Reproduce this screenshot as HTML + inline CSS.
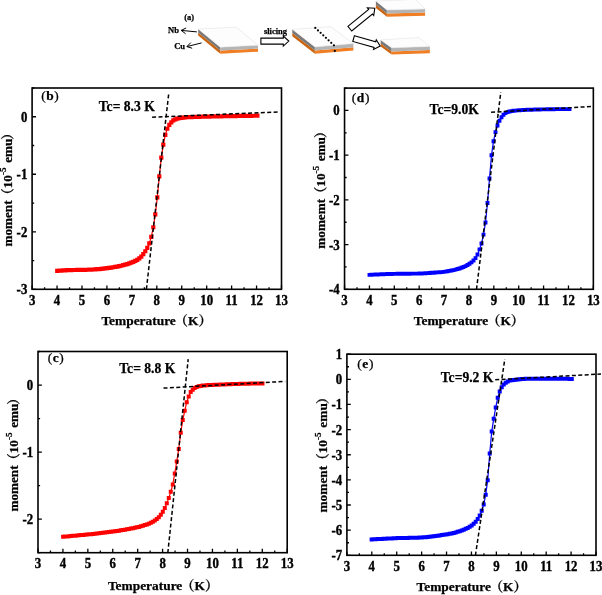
<!DOCTYPE html>
<html><head><meta charset="utf-8"><title>figure</title><style>html,body{margin:0;padding:0;background:#fff}svg{display:block}</style></head><body>
<svg width="602" height="595" viewBox="0 0 602 595">
<rect width="602" height="595" fill="#fff"/>
<polygon points="198.2,32.4 220.3,50.6 220.3,53.7 198.2,35.5" fill="#cc6410"/><polygon points="198.2,29 220.3,47.2 220.3,50.6 198.2,32.4" fill="#787878"/><polygon points="220.3,50.6 258,48.6 258,51.7 220.3,53.7" fill="#f07e24"/><polygon points="220.3,47.2 258,45.2 258,48.6 220.3,50.6" fill="#b4b4b4"/><polygon points="198.2,29 236.5,27.3 258,45.2 220.3,47.2" fill="#fdfdfd" stroke="#dcdcdc" stroke-width="0.5"/>
<polygon points="292.3,32.95 314.9,50.5 314.9,53.7 292.3,36.15" fill="#cc6410"/><polygon points="292.3,29.35 314.9,46.9 314.9,50.5 292.3,32.95" fill="#787878"/><polygon points="314.9,50.5 353.4,47.2 353.4,50.4 314.9,53.7" fill="#f07e24"/><polygon points="314.9,46.9 353.4,43.6 353.4,47.2 314.9,50.5" fill="#b4b4b4"/><polygon points="292.3,29.35 330.8,26.7 353.4,43.6 314.9,46.9" fill="#fdfdfd" stroke="#dcdcdc" stroke-width="0.5"/>
<polygon points="375.9,4.7 386.9,13.6 386.9,16.8 375.9,7.9" fill="#cc6410"/><polygon points="375.9,1.1 386.9,10 386.9,13.6 375.9,4.7" fill="#787878"/><polygon points="386.9,13.6 425.1,12.6 425.1,15.8 386.9,16.8" fill="#f07e24"/><polygon points="386.9,10 425.1,9 425.1,12.6 386.9,13.6" fill="#b4b4b4"/><polygon points="375.9,1.1 415.5,-0.7 425.1,9 386.9,10" fill="#fdfdfd" stroke="#dcdcdc" stroke-width="0.5"/>
<polygon points="380.7,43.5 391.6,51.4 391.6,54.5 380.7,46.6" fill="#cc6410"/><polygon points="380.7,39.9 391.6,47.8 391.6,51.4 380.7,43.5" fill="#787878"/><polygon points="391.6,51.4 429.85,50.1 429.85,53.2 391.6,54.5" fill="#f07e24"/><polygon points="391.6,47.8 429.85,46.5 429.85,50.1 391.6,51.4" fill="#b4b4b4"/><polygon points="380.7,39.9 418.8,37.6 429.85,46.5 391.6,47.8" fill="#fdfdfd" stroke="#dcdcdc" stroke-width="0.5"/>
<circle cx="315.3" cy="27.9" r="1.1" fill="#000"/>
<circle cx="317.96" cy="30.39" r="1.1" fill="#000"/>
<circle cx="320.61" cy="32.87" r="1.1" fill="#000"/>
<circle cx="323.27" cy="35.36" r="1.1" fill="#000"/>
<circle cx="325.93" cy="37.84" r="1.1" fill="#000"/>
<circle cx="328.59" cy="40.33" r="1.1" fill="#000"/>
<circle cx="331.24" cy="42.81" r="1.1" fill="#000"/>
<circle cx="333.9" cy="45.3" r="1.1" fill="#000"/>
<circle cx="334.8" cy="50.9" r="1.1" fill="#000"/>
<polygon transform="translate(260.9 41.1) rotate(0)" points="0,-3 22.4,-3 22.4,-5 27.9,0 22.4,5 22.4,3 0,3" fill="#fff" stroke="#000" stroke-width="1.1"/>
<polygon transform="translate(349.8 28.7) rotate(-39.35)" points="0,-3 26.83,-3 26.83,-5 32.33,0 26.83,5 26.83,3 0,3" fill="#fff" stroke="#000" stroke-width="1.1"/>
<polygon transform="translate(353.6 38.6) rotate(15.75)" points="0,-3 22.14,-3 22.14,-5 27.64,0 22.14,5 22.14,3 0,3" fill="#fff" stroke="#000" stroke-width="1.1"/>
<path d="M196.9 31.9L181.2 30.4M185.59 33.71L181.2 30.4L186.14 27.98" fill="none" stroke="#000" stroke-width="1"/>
<path d="M201.6 42.9L186.9 46.6M192.15 48.24L186.9 46.6L190.75 42.67" fill="none" stroke="#000" stroke-width="1"/>
<g font-family="'Liberation Serif', 'Noto Serif CJK SC', serif" font-weight="bold" stroke="#000" stroke-width="0.25" font-size="8.5" fill="#000">
<text x="184.2" y="20">(a)</text>
<text x="168" y="33">Nb</text>
<text x="174.2" y="48.8">Cu</text>
<text x="263.9" y="33.5">slicing</text>
</g>
<polyline points="57.22,270.88 59.22,270.72 61.22,270.57 63.22,270.43 65.23,270.31 67.23,270.21 69.23,270.13 71.23,270.07 73.23,270.02 75.23,269.98 77.24,269.95 79.24,269.91 81.24,269.87 83.24,269.83 85.24,269.8 87.24,269.76 89.25,269.7 91.25,269.63 93.25,269.52 95.25,269.38 97.25,269.22 99.25,269.05 101.26,268.86 103.26,268.65 105.26,268.4 107.26,268.14 109.26,267.86 111.26,267.58 113.26,267.27 115.27,266.93 117.27,266.57 119.27,266.17 121.27,265.73 123.27,265.21 125.27,264.64 127.28,264.04 129.28,263.38 131.28,262.66 133.28,261.85 135.28,260.94 137.28,259.85 139.29,258.43 141.29,256.56 143.29,254.2 145.29,251.26 147.29,247.85 149.29,243.42 151.3,236.82 153.3,227.25 155.3,214.32 157.3,197.32 159.3,176.35 161.3,157.67 163.3,144.53 165.31,134.91 167.31,128.76 169.31,124.81 171.31,122.31 173.31,120.44 175.31,119.35 177.32,118.71 179.32,118.27 181.32,117.93 183.32,117.61 185.32,117.38 187.32,117.25 189.33,117.15 191.33,117.06 193.33,116.98 195.33,116.91 197.33,116.85 199.33,116.79 201.34,116.74 203.34,116.68 205.34,116.64 207.34,116.59 209.34,116.55 211.34,116.51 213.34,116.47 215.35,116.43 217.35,116.39 219.35,116.35 221.35,116.31 223.35,116.27 225.35,116.24 227.36,116.2 229.36,116.16 231.36,116.12 233.36,116.09 235.36,116.05 237.36,116.02 239.37,115.98 241.37,115.95 243.37,115.92 245.37,115.89 247.37,115.85 249.37,115.82 251.38,115.79 253.38,115.76 255.38,115.74 257.38,115.71" fill="none" stroke="#ff0000" stroke-width="1.2"/>
<path d="M55.12 268.78h4.2v4.2h-4.2zM57.12 268.62h4.2v4.2h-4.2zM59.12 268.47h4.2v4.2h-4.2zM61.12 268.33h4.2v4.2h-4.2zM63.13 268.21h4.2v4.2h-4.2zM65.13 268.11h4.2v4.2h-4.2zM67.13 268.03h4.2v4.2h-4.2zM69.13 267.97h4.2v4.2h-4.2zM71.13 267.92h4.2v4.2h-4.2zM73.13 267.88h4.2v4.2h-4.2zM75.14 267.85h4.2v4.2h-4.2zM77.14 267.81h4.2v4.2h-4.2zM79.14 267.77h4.2v4.2h-4.2zM81.14 267.73h4.2v4.2h-4.2zM83.14 267.7h4.2v4.2h-4.2zM85.14 267.66h4.2v4.2h-4.2zM87.15 267.6h4.2v4.2h-4.2zM89.15 267.53h4.2v4.2h-4.2zM91.15 267.42h4.2v4.2h-4.2zM93.15 267.28h4.2v4.2h-4.2zM95.15 267.12h4.2v4.2h-4.2zM97.15 266.95h4.2v4.2h-4.2zM99.16 266.76h4.2v4.2h-4.2zM101.16 266.55h4.2v4.2h-4.2zM103.16 266.3h4.2v4.2h-4.2zM105.16 266.04h4.2v4.2h-4.2zM107.16 265.76h4.2v4.2h-4.2zM109.16 265.48h4.2v4.2h-4.2zM111.16 265.17h4.2v4.2h-4.2zM113.17 264.83h4.2v4.2h-4.2zM115.17 264.47h4.2v4.2h-4.2zM117.17 264.07h4.2v4.2h-4.2zM119.17 263.63h4.2v4.2h-4.2zM121.17 263.11h4.2v4.2h-4.2zM123.17 262.54h4.2v4.2h-4.2zM125.18 261.94h4.2v4.2h-4.2zM127.18 261.28h4.2v4.2h-4.2zM129.18 260.56h4.2v4.2h-4.2zM131.18 259.75h4.2v4.2h-4.2zM133.18 258.84h4.2v4.2h-4.2zM135.18 257.75h4.2v4.2h-4.2zM137.19 256.33h4.2v4.2h-4.2zM139.19 254.46h4.2v4.2h-4.2zM141.19 252.1h4.2v4.2h-4.2zM143.19 249.16h4.2v4.2h-4.2zM145.19 245.75h4.2v4.2h-4.2zM147.19 241.32h4.2v4.2h-4.2zM149.2 234.72h4.2v4.2h-4.2zM151.2 225.15h4.2v4.2h-4.2zM153.2 212.22h4.2v4.2h-4.2zM155.2 195.22h4.2v4.2h-4.2zM157.2 174.25h4.2v4.2h-4.2zM159.2 155.57h4.2v4.2h-4.2zM161.2 142.43h4.2v4.2h-4.2zM163.21 132.81h4.2v4.2h-4.2zM165.21 126.66h4.2v4.2h-4.2zM167.21 122.71h4.2v4.2h-4.2zM169.21 120.21h4.2v4.2h-4.2zM171.21 118.34h4.2v4.2h-4.2zM173.21 117.25h4.2v4.2h-4.2zM175.22 116.61h4.2v4.2h-4.2zM177.22 116.17h4.2v4.2h-4.2zM179.22 115.83h4.2v4.2h-4.2zM181.22 115.51h4.2v4.2h-4.2zM183.22 115.28h4.2v4.2h-4.2zM185.22 115.15h4.2v4.2h-4.2zM187.23 115.05h4.2v4.2h-4.2zM189.23 114.96h4.2v4.2h-4.2zM191.23 114.88h4.2v4.2h-4.2zM193.23 114.81h4.2v4.2h-4.2zM195.23 114.75h4.2v4.2h-4.2zM197.23 114.69h4.2v4.2h-4.2zM199.24 114.64h4.2v4.2h-4.2zM201.24 114.58h4.2v4.2h-4.2zM203.24 114.54h4.2v4.2h-4.2zM205.24 114.49h4.2v4.2h-4.2zM207.24 114.45h4.2v4.2h-4.2zM209.24 114.41h4.2v4.2h-4.2zM211.24 114.37h4.2v4.2h-4.2zM213.25 114.33h4.2v4.2h-4.2zM215.25 114.29h4.2v4.2h-4.2zM217.25 114.25h4.2v4.2h-4.2zM219.25 114.21h4.2v4.2h-4.2zM221.25 114.17h4.2v4.2h-4.2zM223.25 114.14h4.2v4.2h-4.2zM225.26 114.1h4.2v4.2h-4.2zM227.26 114.06h4.2v4.2h-4.2zM229.26 114.02h4.2v4.2h-4.2zM231.26 113.99h4.2v4.2h-4.2zM233.26 113.95h4.2v4.2h-4.2zM235.26 113.92h4.2v4.2h-4.2zM237.27 113.88h4.2v4.2h-4.2zM239.27 113.85h4.2v4.2h-4.2zM241.27 113.82h4.2v4.2h-4.2zM243.27 113.79h4.2v4.2h-4.2zM245.27 113.75h4.2v4.2h-4.2zM247.27 113.72h4.2v4.2h-4.2zM249.28 113.69h4.2v4.2h-4.2zM251.28 113.66h4.2v4.2h-4.2zM253.28 113.64h4.2v4.2h-4.2zM255.28 113.61h4.2v4.2h-4.2z" fill="#ff0000"/>
<line x1="146.4" y1="289.2" x2="168.7" y2="93.8" stroke="#000" stroke-width="1.5" stroke-dasharray="4 2.4"/>
<line x1="152.1" y1="117.2" x2="279.7" y2="111.9" stroke="#000" stroke-width="1.5" stroke-dasharray="4 2.4"/>
<rect x="32.1" y="88" width="249.4" height="201.3" fill="none" stroke="#000" stroke-width="1.6"/>
<path d="M32.1 289.3v-3.9M44.57 289.3v-2.1M57.04 289.3v-3.9M69.51 289.3v-2.1M81.98 289.3v-3.9M94.45 289.3v-2.1M106.92 289.3v-3.9M119.39 289.3v-2.1M131.86 289.3v-3.9M144.33 289.3v-2.1M156.8 289.3v-3.9M169.27 289.3v-2.1M181.74 289.3v-3.9M194.21 289.3v-2.1M206.68 289.3v-3.9M219.15 289.3v-2.1M231.62 289.3v-3.9M244.09 289.3v-2.1M256.56 289.3v-3.9M269.03 289.3v-2.1M281.5 289.3v-3.9M32.1 289.3h3.9M32.1 260.54h2.1M32.1 231.79h3.9M32.1 203.03h2.1M32.1 174.27h3.9M32.1 145.51h2.1M32.1 116.76h3.9M32.1 88h2.1" stroke="#000" stroke-width="1.3" fill="none"/>
<g font-family="'Liberation Serif', 'Noto Serif CJK SC', serif" font-weight="bold" stroke="#000" stroke-width="0.4" font-size="14.4" text-anchor="middle" fill="#000">
<text transform="translate(32.1 304.7) scale(0.89 1)">3</text>
<text transform="translate(57.04 304.7) scale(0.89 1)">4</text>
<text transform="translate(81.98 304.7) scale(0.89 1)">5</text>
<text transform="translate(106.92 304.7) scale(0.89 1)">6</text>
<text transform="translate(131.86 304.7) scale(0.89 1)">7</text>
<text transform="translate(156.8 304.7) scale(0.89 1)">8</text>
<text transform="translate(181.74 304.7) scale(0.89 1)">9</text>
<text transform="translate(206.68 304.7) scale(0.89 1)">10</text>
<text transform="translate(231.62 304.7) scale(0.89 1)">11</text>
<text transform="translate(256.56 304.7) scale(0.89 1)">12</text>
<text transform="translate(281.5 304.7) scale(0.89 1)">13</text>
</g>
<g font-family="'Liberation Serif', 'Noto Serif CJK SC', serif" font-weight="bold" stroke="#000" stroke-width="0.4" font-size="14.4" text-anchor="end" fill="#000">
<text transform="translate(27.3 294.3) scale(0.89 1)">-3</text>
<text transform="translate(27.3 236.79) scale(0.89 1)">-2</text>
<text transform="translate(27.3 179.27) scale(0.89 1)">-1</text>
<text transform="translate(27.3 121.76) scale(0.89 1)">0</text>
</g>
<text font-family="'Liberation Serif', 'Noto Serif CJK SC', serif" font-weight="bold" stroke="#000" stroke-width="0.25" font-size="13.4" text-anchor="start" x="101.4" y="325.4">Temperature<tspan dx="-1.2">（</tspan>K）</text>
<text font-family="'Liberation Serif', 'Noto Serif CJK SC', serif" font-weight="bold" stroke="#000" stroke-width="0.25" font-size="13.2" text-anchor="start" transform="translate(12 246.6) rotate(-90)">moment<tspan dx="-1">（</tspan>10<tspan font-size="9.2" dy="-6">-5</tspan><tspan dy="6" dx="1.3"> emu</tspan><tspan dx="-1">）</tspan></text>
<text font-family="'Liberation Serif', 'Noto Serif CJK SC', serif" font-weight="bold" stroke="#000" stroke-width="0.25" font-size="13.4" x="41.2" y="100" xml:space="preserve"><tspan font-weight="normal">(</tspan><tspan dx="0.6">b</tspan><tspan font-weight="normal" dx="0.6">)</tspan></text>
<text font-family="'Liberation Serif', 'Noto Serif CJK SC', serif" font-weight="bold" stroke="#000" stroke-width="0.25" font-size="13.6" x="98.8" y="111.3" xml:space="preserve">Tc= 8.3 K</text>
<polyline points="369.5,274.84 371.5,274.73 373.5,274.63 375.5,274.54 377.5,274.45 379.5,274.36 381.5,274.27 383.5,274.19 385.5,274.12 387.5,274.05 389.5,273.99 391.5,273.93 393.5,273.88 395.5,273.84 397.5,273.8 399.5,273.77 401.5,273.75 403.5,273.73 405.5,273.71 407.5,273.69 409.5,273.68 411.5,273.66 413.5,273.64 415.5,273.61 417.5,273.58 419.5,273.55 421.5,273.49 423.5,273.38 425.5,273.26 427.5,273.11 429.5,272.96 431.5,272.82 433.5,272.68 435.5,272.55 437.5,272.41 439.5,272.26 441.5,272.08 443.5,271.87 445.5,271.6 447.5,271.27 449.5,270.9 451.5,270.51 453.5,270.08 455.5,269.59 457.5,269.05 459.5,268.45 461.5,267.76 463.5,266.98 465.5,266.1 467.5,265.05 469.5,263.82 471.5,262.36 473.5,260.57 475.5,258.08 477.5,254.57 479.5,249.36 481.5,243.57 483.5,234.64 485.5,222.53 487.5,203.01 489.5,178.54 491.5,155.26 493.5,141.22 495.5,132.09 497.5,125.56 499.5,120.76 501.5,117.23 503.5,114.8 505.5,113.17 507.5,112.16 509.5,111.45 511.5,111.08 513.5,110.82 515.5,110.59 517.5,110.4 519.5,110.23 521.5,110.09 523.5,109.97 525.5,109.88 527.5,109.8 529.5,109.74 531.5,109.68 533.5,109.62 535.5,109.57 537.5,109.52 539.5,109.47 541.5,109.42 543.5,109.38 545.5,109.34 547.5,109.3 549.5,109.26 551.5,109.23 553.5,109.2 555.5,109.17 557.5,109.15 559.5,109.13 561.5,109.11 563.5,109.1 565.5,109.09 567.5,109.08 569.5,109.08" fill="none" stroke="#0000ff" stroke-width="1.2"/>
<path d="M367.55 272.89h3.9v3.9h-3.9zM369.55 272.78h3.9v3.9h-3.9zM371.55 272.68h3.9v3.9h-3.9zM373.55 272.59h3.9v3.9h-3.9zM375.55 272.5h3.9v3.9h-3.9zM377.55 272.41h3.9v3.9h-3.9zM379.55 272.32h3.9v3.9h-3.9zM381.55 272.24h3.9v3.9h-3.9zM383.55 272.17h3.9v3.9h-3.9zM385.55 272.1h3.9v3.9h-3.9zM387.55 272.04h3.9v3.9h-3.9zM389.55 271.98h3.9v3.9h-3.9zM391.55 271.93h3.9v3.9h-3.9zM393.55 271.89h3.9v3.9h-3.9zM395.55 271.85h3.9v3.9h-3.9zM397.55 271.82h3.9v3.9h-3.9zM399.55 271.8h3.9v3.9h-3.9zM401.55 271.78h3.9v3.9h-3.9zM403.55 271.76h3.9v3.9h-3.9zM405.55 271.74h3.9v3.9h-3.9zM407.55 271.73h3.9v3.9h-3.9zM409.55 271.71h3.9v3.9h-3.9zM411.55 271.69h3.9v3.9h-3.9zM413.55 271.66h3.9v3.9h-3.9zM415.55 271.63h3.9v3.9h-3.9zM417.55 271.6h3.9v3.9h-3.9zM419.55 271.54h3.9v3.9h-3.9zM421.55 271.43h3.9v3.9h-3.9zM423.55 271.31h3.9v3.9h-3.9zM425.55 271.16h3.9v3.9h-3.9zM427.55 271.01h3.9v3.9h-3.9zM429.55 270.87h3.9v3.9h-3.9zM431.55 270.73h3.9v3.9h-3.9zM433.55 270.6h3.9v3.9h-3.9zM435.55 270.46h3.9v3.9h-3.9zM437.55 270.31h3.9v3.9h-3.9zM439.55 270.13h3.9v3.9h-3.9zM441.55 269.92h3.9v3.9h-3.9zM443.55 269.65h3.9v3.9h-3.9zM445.55 269.32h3.9v3.9h-3.9zM447.55 268.95h3.9v3.9h-3.9zM449.55 268.56h3.9v3.9h-3.9zM451.55 268.13h3.9v3.9h-3.9zM453.55 267.64h3.9v3.9h-3.9zM455.55 267.1h3.9v3.9h-3.9zM457.55 266.5h3.9v3.9h-3.9zM459.55 265.81h3.9v3.9h-3.9zM461.55 265.03h3.9v3.9h-3.9zM463.55 264.15h3.9v3.9h-3.9zM465.55 263.1h3.9v3.9h-3.9zM467.55 261.87h3.9v3.9h-3.9zM469.55 260.41h3.9v3.9h-3.9zM471.55 258.62h3.9v3.9h-3.9zM473.55 256.13h3.9v3.9h-3.9zM475.55 252.62h3.9v3.9h-3.9zM477.55 247.41h3.9v3.9h-3.9zM479.55 241.62h3.9v3.9h-3.9zM481.55 232.69h3.9v3.9h-3.9zM483.55 220.58h3.9v3.9h-3.9zM485.55 201.06h3.9v3.9h-3.9zM487.55 176.59h3.9v3.9h-3.9zM489.55 153.31h3.9v3.9h-3.9zM491.55 139.27h3.9v3.9h-3.9zM493.55 130.14h3.9v3.9h-3.9zM495.55 123.61h3.9v3.9h-3.9zM497.55 118.81h3.9v3.9h-3.9zM499.55 115.28h3.9v3.9h-3.9zM501.55 112.85h3.9v3.9h-3.9zM503.55 111.22h3.9v3.9h-3.9zM505.55 110.21h3.9v3.9h-3.9zM507.55 109.5h3.9v3.9h-3.9zM509.55 109.13h3.9v3.9h-3.9zM511.55 108.87h3.9v3.9h-3.9zM513.55 108.64h3.9v3.9h-3.9zM515.55 108.45h3.9v3.9h-3.9zM517.55 108.28h3.9v3.9h-3.9zM519.55 108.14h3.9v3.9h-3.9zM521.55 108.02h3.9v3.9h-3.9zM523.55 107.93h3.9v3.9h-3.9zM525.55 107.85h3.9v3.9h-3.9zM527.55 107.79h3.9v3.9h-3.9zM529.55 107.73h3.9v3.9h-3.9zM531.55 107.67h3.9v3.9h-3.9zM533.55 107.62h3.9v3.9h-3.9zM535.55 107.57h3.9v3.9h-3.9zM537.55 107.52h3.9v3.9h-3.9zM539.55 107.47h3.9v3.9h-3.9zM541.55 107.43h3.9v3.9h-3.9zM543.55 107.39h3.9v3.9h-3.9zM545.55 107.35h3.9v3.9h-3.9zM547.55 107.31h3.9v3.9h-3.9zM549.55 107.28h3.9v3.9h-3.9zM551.55 107.25h3.9v3.9h-3.9zM553.55 107.22h3.9v3.9h-3.9zM555.55 107.2h3.9v3.9h-3.9zM557.55 107.18h3.9v3.9h-3.9zM559.55 107.16h3.9v3.9h-3.9zM561.55 107.15h3.9v3.9h-3.9zM563.55 107.14h3.9v3.9h-3.9zM565.55 107.13h3.9v3.9h-3.9zM567.55 107.13h3.9v3.9h-3.9z" fill="#0000ff"/>
<line x1="476.5" y1="289.4" x2="500.8" y2="92.1" stroke="#000" stroke-width="1.5" stroke-dasharray="4 2.4"/>
<line x1="491.1" y1="112.3" x2="592.9" y2="106.4" stroke="#000" stroke-width="1.5" stroke-dasharray="4 2.4"/>
<rect x="344.55" y="88.1" width="248.8" height="201.2" fill="none" stroke="#000" stroke-width="1.6"/>
<path d="M344.55 289.3v-3.9M356.99 289.3v-2.1M369.43 289.3v-3.9M381.87 289.3v-2.1M394.31 289.3v-3.9M406.75 289.3v-2.1M419.19 289.3v-3.9M431.63 289.3v-2.1M444.07 289.3v-3.9M456.51 289.3v-2.1M468.95 289.3v-3.9M481.39 289.3v-2.1M493.83 289.3v-3.9M506.27 289.3v-2.1M518.71 289.3v-3.9M531.15 289.3v-2.1M543.59 289.3v-3.9M556.03 289.3v-2.1M568.47 289.3v-3.9M580.91 289.3v-2.1M593.35 289.3v-3.9M344.55 289.3h3.9M344.55 266.94h2.1M344.55 244.59h3.9M344.55 222.23h2.1M344.55 199.88h3.9M344.55 177.52h2.1M344.55 155.17h3.9M344.55 132.81h2.1M344.55 110.46h3.9M344.55 88.1h2.1" stroke="#000" stroke-width="1.3" fill="none"/>
<g font-family="'Liberation Serif', 'Noto Serif CJK SC', serif" font-weight="bold" stroke="#000" stroke-width="0.4" font-size="14.4" text-anchor="middle" fill="#000">
<text transform="translate(344.55 304.7) scale(0.89 1)">3</text>
<text transform="translate(369.43 304.7) scale(0.89 1)">4</text>
<text transform="translate(394.31 304.7) scale(0.89 1)">5</text>
<text transform="translate(419.19 304.7) scale(0.89 1)">6</text>
<text transform="translate(444.07 304.7) scale(0.89 1)">7</text>
<text transform="translate(468.95 304.7) scale(0.89 1)">8</text>
<text transform="translate(493.83 304.7) scale(0.89 1)">9</text>
<text transform="translate(518.71 304.7) scale(0.89 1)">10</text>
<text transform="translate(543.59 304.7) scale(0.89 1)">11</text>
<text transform="translate(568.47 304.7) scale(0.89 1)">12</text>
<text transform="translate(593.35 304.7) scale(0.89 1)">13</text>
</g>
<g font-family="'Liberation Serif', 'Noto Serif CJK SC', serif" font-weight="bold" stroke="#000" stroke-width="0.4" font-size="14.4" text-anchor="end" fill="#000">
<text transform="translate(339.75 294.3) scale(0.89 1)">-4</text>
<text transform="translate(339.75 249.59) scale(0.89 1)">-3</text>
<text transform="translate(339.75 204.88) scale(0.89 1)">-2</text>
<text transform="translate(339.75 160.17) scale(0.89 1)">-1</text>
<text transform="translate(339.75 115.46) scale(0.89 1)">0</text>
</g>
<text font-family="'Liberation Serif', 'Noto Serif CJK SC', serif" font-weight="bold" stroke="#000" stroke-width="0.25" font-size="13.4" text-anchor="start" x="413.8" y="325.4">Temperature<tspan dx="-1.2">（</tspan>K）</text>
<text font-family="'Liberation Serif', 'Noto Serif CJK SC', serif" font-weight="bold" stroke="#000" stroke-width="0.25" font-size="13.2" text-anchor="start" transform="translate(324.8 248.7) rotate(-90)">momemt<tspan dx="-1">（</tspan>10<tspan font-size="9.2" dy="-6">-5</tspan><tspan dy="6" dx="1.3"> emu</tspan><tspan dx="-1">）</tspan></text>
<text font-family="'Liberation Serif', 'Noto Serif CJK SC', serif" font-weight="bold" stroke="#000" stroke-width="0.25" font-size="13.4" x="351.8" y="102" xml:space="preserve"><tspan font-weight="normal">(</tspan><tspan dx="0.6">d</tspan><tspan font-weight="normal" dx="0.6">)</tspan></text>
<text font-family="'Liberation Serif', 'Noto Serif CJK SC', serif" font-weight="bold" stroke="#000" stroke-width="0.25" font-size="13.6" x="429.6" y="113.7" xml:space="preserve">Tc=9.0K</text>
<polyline points="63.12,536.77 65.11,536.58 67.11,536.38 69.1,536.19 71.09,536 73.09,535.82 75.08,535.63 77.08,535.44 79.07,535.25 81.06,535.07 83.06,534.89 85.05,534.71 87.04,534.53 89.04,534.35 91.03,534.15 93.02,533.93 95.02,533.7 97.01,533.45 99,533.2 101,532.95 102.99,532.7 104.99,532.47 106.98,532.23 108.97,532 110.97,531.77 112.96,531.52 114.95,531.25 116.95,530.96 118.94,530.65 120.93,530.33 122.93,530 124.92,529.65 126.92,529.3 128.91,528.95 130.9,528.59 132.9,528.21 134.89,527.81 136.88,527.37 138.88,526.89 140.87,526.34 142.86,525.73 144.86,525.07 146.85,524.38 148.84,523.64 150.84,522.8 152.83,521.81 154.83,520.59 156.82,519.09 158.81,517.21 160.81,514.87 162.8,511.85 164.79,508 166.79,503.37 168.78,497.88 170.77,491.82 172.77,484.47 174.76,473.47 176.76,461.42 178.75,448.92 180.74,432.77 182.74,420.07 184.73,410.8 186.72,402.15 188.72,396.49 190.71,392.1 192.7,389.64 194.7,387.96 196.69,386.98 198.68,386.37 200.68,385.92 202.67,385.59 204.67,385.39 206.66,385.23 208.65,385.09 210.65,384.98 212.64,384.89 214.63,384.8 216.63,384.72 218.62,384.63 220.61,384.55 222.61,384.47 224.6,384.39 226.6,384.31 228.59,384.24 230.58,384.16 232.58,384.09 234.57,384.02 236.56,383.95 238.56,383.89 240.55,383.83 242.54,383.78 244.54,383.73 246.53,383.68 248.52,383.64 250.52,383.6 252.51,383.57 254.51,383.54 256.5,383.52 258.49,383.5 260.49,383.49 262.48,383.49" fill="none" stroke="#ff0000" stroke-width="1.2"/>
<path d="M61.12 534.77h4v4h-4zM63.11 534.58h4v4h-4zM65.11 534.38h4v4h-4zM67.1 534.19h4v4h-4zM69.09 534h4v4h-4zM71.09 533.82h4v4h-4zM73.08 533.63h4v4h-4zM75.08 533.44h4v4h-4zM77.07 533.25h4v4h-4zM79.06 533.07h4v4h-4zM81.06 532.89h4v4h-4zM83.05 532.71h4v4h-4zM85.04 532.53h4v4h-4zM87.04 532.35h4v4h-4zM89.03 532.15h4v4h-4zM91.02 531.93h4v4h-4zM93.02 531.7h4v4h-4zM95.01 531.45h4v4h-4zM97 531.2h4v4h-4zM99 530.95h4v4h-4zM100.99 530.7h4v4h-4zM102.99 530.47h4v4h-4zM104.98 530.23h4v4h-4zM106.97 530h4v4h-4zM108.97 529.77h4v4h-4zM110.96 529.52h4v4h-4zM112.95 529.25h4v4h-4zM114.95 528.96h4v4h-4zM116.94 528.65h4v4h-4zM118.93 528.33h4v4h-4zM120.93 528h4v4h-4zM122.92 527.65h4v4h-4zM124.92 527.3h4v4h-4zM126.91 526.95h4v4h-4zM128.9 526.59h4v4h-4zM130.9 526.21h4v4h-4zM132.89 525.81h4v4h-4zM134.88 525.37h4v4h-4zM136.88 524.89h4v4h-4zM138.87 524.34h4v4h-4zM140.86 523.73h4v4h-4zM142.86 523.07h4v4h-4zM144.85 522.38h4v4h-4zM146.84 521.64h4v4h-4zM148.84 520.8h4v4h-4zM150.83 519.81h4v4h-4zM152.83 518.59h4v4h-4zM154.82 517.09h4v4h-4zM156.81 515.21h4v4h-4zM158.81 512.87h4v4h-4zM160.8 509.85h4v4h-4zM162.79 506h4v4h-4zM164.79 501.37h4v4h-4zM166.78 495.88h4v4h-4zM168.77 489.82h4v4h-4zM170.77 482.47h4v4h-4zM172.76 471.47h4v4h-4zM174.76 459.42h4v4h-4zM176.75 446.92h4v4h-4zM178.74 430.77h4v4h-4zM180.74 418.07h4v4h-4zM182.73 408.8h4v4h-4zM184.72 400.15h4v4h-4zM186.72 394.49h4v4h-4zM188.71 390.1h4v4h-4zM190.7 387.64h4v4h-4zM192.7 385.96h4v4h-4zM194.69 384.98h4v4h-4zM196.68 384.37h4v4h-4zM198.68 383.92h4v4h-4zM200.67 383.59h4v4h-4zM202.67 383.39h4v4h-4zM204.66 383.23h4v4h-4zM206.65 383.09h4v4h-4zM208.65 382.98h4v4h-4zM210.64 382.89h4v4h-4zM212.63 382.8h4v4h-4zM214.63 382.72h4v4h-4zM216.62 382.63h4v4h-4zM218.61 382.55h4v4h-4zM220.61 382.47h4v4h-4zM222.6 382.39h4v4h-4zM224.6 382.31h4v4h-4zM226.59 382.24h4v4h-4zM228.58 382.16h4v4h-4zM230.58 382.09h4v4h-4zM232.57 382.02h4v4h-4zM234.56 381.95h4v4h-4zM236.56 381.89h4v4h-4zM238.55 381.83h4v4h-4zM240.54 381.78h4v4h-4zM242.54 381.73h4v4h-4zM244.53 381.68h4v4h-4zM246.52 381.64h4v4h-4zM248.52 381.6h4v4h-4zM250.51 381.57h4v4h-4zM252.51 381.54h4v4h-4zM254.5 381.52h4v4h-4zM256.49 381.5h4v4h-4zM258.49 381.49h4v4h-4zM260.48 381.49h4v4h-4z" fill="#ff0000"/>
<line x1="167.8" y1="553" x2="188.2" y2="359.2" stroke="#000" stroke-width="1.5" stroke-dasharray="4 2.4"/>
<line x1="163.5" y1="388.1" x2="285.2" y2="381.4" stroke="#000" stroke-width="1.5" stroke-dasharray="4 2.4"/>
<rect x="38" y="351.5" width="249.2" height="201.2" fill="none" stroke="#000" stroke-width="1.6"/>
<path d="M38 552.7v-3.9M50.46 552.7v-2.1M62.92 552.7v-3.9M75.38 552.7v-2.1M87.84 552.7v-3.9M100.3 552.7v-2.1M112.76 552.7v-3.9M125.22 552.7v-2.1M137.68 552.7v-3.9M150.14 552.7v-2.1M162.6 552.7v-3.9M175.06 552.7v-2.1M187.52 552.7v-3.9M199.98 552.7v-2.1M212.44 552.7v-3.9M224.9 552.7v-2.1M237.36 552.7v-3.9M249.82 552.7v-2.1M262.28 552.7v-3.9M274.74 552.7v-2.1M287.2 552.7v-3.9M38 552.7h2.1M38 519.17h3.9M38 485.63h2.1M38 452.1h3.9M38 418.57h2.1M38 385.03h3.9M38 351.5h2.1" stroke="#000" stroke-width="1.3" fill="none"/>
<g font-family="'Liberation Serif', 'Noto Serif CJK SC', serif" font-weight="bold" stroke="#000" stroke-width="0.4" font-size="14.4" text-anchor="middle" fill="#000">
<text transform="translate(38 568.1) scale(0.89 1)">3</text>
<text transform="translate(62.92 568.1) scale(0.89 1)">4</text>
<text transform="translate(87.84 568.1) scale(0.89 1)">5</text>
<text transform="translate(112.76 568.1) scale(0.89 1)">6</text>
<text transform="translate(137.68 568.1) scale(0.89 1)">7</text>
<text transform="translate(162.6 568.1) scale(0.89 1)">8</text>
<text transform="translate(187.52 568.1) scale(0.89 1)">9</text>
<text transform="translate(212.44 568.1) scale(0.89 1)">10</text>
<text transform="translate(237.36 568.1) scale(0.89 1)">11</text>
<text transform="translate(262.28 568.1) scale(0.89 1)">12</text>
<text transform="translate(287.2 568.1) scale(0.89 1)">13</text>
</g>
<g font-family="'Liberation Serif', 'Noto Serif CJK SC', serif" font-weight="bold" stroke="#000" stroke-width="0.4" font-size="14.4" text-anchor="end" fill="#000">
<text transform="translate(33.2 524.17) scale(0.89 1)">-2</text>
<text transform="translate(33.2 457.1) scale(0.89 1)">-1</text>
<text transform="translate(33.2 390.03) scale(0.89 1)">0</text>
</g>
<text font-family="'Liberation Serif', 'Noto Serif CJK SC', serif" font-weight="bold" stroke="#000" stroke-width="0.25" font-size="13.4" text-anchor="start" x="107.9" y="589.6">Temperature<tspan dx="-1.2">（</tspan>K）</text>
<text font-family="'Liberation Serif', 'Noto Serif CJK SC', serif" font-weight="bold" stroke="#000" stroke-width="0.25" font-size="13.2" text-anchor="start" transform="translate(18 511.6) rotate(-90)">moment<tspan dx="-1">（</tspan>10<tspan font-size="9.2" dy="-6">-5</tspan><tspan dy="6" dx="1.3"> emu</tspan><tspan dx="-1">）</tspan></text>
<text font-family="'Liberation Serif', 'Noto Serif CJK SC', serif" font-weight="bold" stroke="#000" stroke-width="0.25" font-size="13.4" x="47.7" y="362.2" xml:space="preserve"><tspan font-weight="normal">(</tspan><tspan dx="0.6">c</tspan><tspan font-weight="normal" dx="0.6">)</tspan></text>
<text font-family="'Liberation Serif', 'Noto Serif CJK SC', serif" font-weight="bold" stroke="#000" stroke-width="0.25" font-size="13.6" x="119.3" y="373.2" xml:space="preserve">Tc= 8.8 K</text>
<polyline points="371.62,539.39 373.62,539.28 375.62,539.18 377.62,539.08 379.63,538.98 381.63,538.88 383.63,538.78 385.63,538.68 387.63,538.58 389.63,538.49 391.64,538.38 393.64,538.28 395.64,538.17 397.64,538.07 399.64,537.99 401.64,537.94 403.65,537.91 405.65,537.89 407.65,537.88 409.65,537.86 411.65,537.84 413.65,537.81 415.66,537.75 417.66,537.67 419.66,537.57 421.66,537.45 423.66,537.32 425.66,537.17 427.66,536.98 429.67,536.74 431.67,536.48 433.67,536.2 435.67,535.92 437.67,535.65 439.67,535.38 441.68,535.11 443.68,534.82 445.68,534.5 447.68,534.17 449.68,533.79 451.68,533.38 453.69,532.92 455.69,532.41 457.69,531.86 459.69,531.24 461.69,530.56 463.69,529.78 465.7,528.87 467.7,527.89 469.7,526.81 471.7,525.5 473.7,523.82 475.7,521.73 477.7,519.03 479.71,515.5 481.71,510.72 483.71,504.48 485.71,494.76 487.71,480.15 489.71,453.46 491.72,431.58 493.72,418.83 495.72,407.39 497.72,397.86 499.72,391.52 501.72,387.3 503.73,384.5 505.73,382.67 507.73,381.39 509.73,380.61 511.73,380.23 513.73,379.94 515.74,379.67 517.74,379.43 519.74,379.24 521.74,379.08 523.74,378.94 525.74,378.81 527.74,378.74 529.75,378.72 531.75,378.72 533.75,378.72 535.75,378.72 537.75,378.72 539.75,378.73 541.76,378.73 543.76,378.73 545.76,378.74 547.76,378.74 549.76,378.75 551.76,378.75 553.77,378.76 555.77,378.77 557.77,378.78 559.77,378.8 561.77,378.81 563.77,378.83 565.78,378.85 567.78,378.87 569.78,378.9 571.78,378.92" fill="none" stroke="#0000ff" stroke-width="1.2"/>
<path d="M369.62 537.39h4v4h-4zM371.62 537.28h4v4h-4zM373.62 537.18h4v4h-4zM375.62 537.08h4v4h-4zM377.63 536.98h4v4h-4zM379.63 536.88h4v4h-4zM381.63 536.78h4v4h-4zM383.63 536.68h4v4h-4zM385.63 536.58h4v4h-4zM387.63 536.49h4v4h-4zM389.64 536.38h4v4h-4zM391.64 536.28h4v4h-4zM393.64 536.17h4v4h-4zM395.64 536.07h4v4h-4zM397.64 535.99h4v4h-4zM399.64 535.94h4v4h-4zM401.65 535.91h4v4h-4zM403.65 535.89h4v4h-4zM405.65 535.88h4v4h-4zM407.65 535.86h4v4h-4zM409.65 535.84h4v4h-4zM411.65 535.81h4v4h-4zM413.66 535.75h4v4h-4zM415.66 535.67h4v4h-4zM417.66 535.57h4v4h-4zM419.66 535.45h4v4h-4zM421.66 535.32h4v4h-4zM423.66 535.17h4v4h-4zM425.66 534.98h4v4h-4zM427.67 534.74h4v4h-4zM429.67 534.48h4v4h-4zM431.67 534.2h4v4h-4zM433.67 533.92h4v4h-4zM435.67 533.65h4v4h-4zM437.67 533.38h4v4h-4zM439.68 533.11h4v4h-4zM441.68 532.82h4v4h-4zM443.68 532.5h4v4h-4zM445.68 532.17h4v4h-4zM447.68 531.79h4v4h-4zM449.68 531.38h4v4h-4zM451.69 530.92h4v4h-4zM453.69 530.41h4v4h-4zM455.69 529.86h4v4h-4zM457.69 529.24h4v4h-4zM459.69 528.56h4v4h-4zM461.69 527.78h4v4h-4zM463.7 526.87h4v4h-4zM465.7 525.89h4v4h-4zM467.7 524.81h4v4h-4zM469.7 523.5h4v4h-4zM471.7 521.82h4v4h-4zM473.7 519.73h4v4h-4zM475.7 517.03h4v4h-4zM477.71 513.5h4v4h-4zM479.71 508.72h4v4h-4zM481.71 502.48h4v4h-4zM483.71 492.76h4v4h-4zM485.71 478.15h4v4h-4zM487.71 451.46h4v4h-4zM489.72 429.58h4v4h-4zM491.72 416.83h4v4h-4zM493.72 405.39h4v4h-4zM495.72 395.86h4v4h-4zM497.72 389.52h4v4h-4zM499.72 385.3h4v4h-4zM501.73 382.5h4v4h-4zM503.73 380.67h4v4h-4zM505.73 379.39h4v4h-4zM507.73 378.61h4v4h-4zM509.73 378.23h4v4h-4zM511.73 377.94h4v4h-4zM513.74 377.67h4v4h-4zM515.74 377.43h4v4h-4zM517.74 377.24h4v4h-4zM519.74 377.08h4v4h-4zM521.74 376.94h4v4h-4zM523.74 376.81h4v4h-4zM525.74 376.74h4v4h-4zM527.75 376.72h4v4h-4zM529.75 376.72h4v4h-4zM531.75 376.72h4v4h-4zM533.75 376.72h4v4h-4zM535.75 376.72h4v4h-4zM537.75 376.73h4v4h-4zM539.76 376.73h4v4h-4zM541.76 376.73h4v4h-4zM543.76 376.74h4v4h-4zM545.76 376.74h4v4h-4zM547.76 376.75h4v4h-4zM549.76 376.75h4v4h-4zM551.77 376.76h4v4h-4zM553.77 376.77h4v4h-4zM555.77 376.78h4v4h-4zM557.77 376.8h4v4h-4zM559.77 376.81h4v4h-4zM561.77 376.83h4v4h-4zM563.78 376.85h4v4h-4zM565.78 376.87h4v4h-4zM567.78 376.9h4v4h-4zM569.78 376.92h4v4h-4z" fill="#0000ff"/>
<line x1="475.4" y1="555.5" x2="504.8" y2="359.2" stroke="#000" stroke-width="1.5" stroke-dasharray="4 2.4"/>
<line x1="495.2" y1="379.8" x2="601" y2="374" stroke="#000" stroke-width="1.5" stroke-dasharray="4 2.4"/>
<rect x="346.9" y="354.2" width="249.1" height="201.1" fill="none" stroke="#000" stroke-width="1.6"/>
<path d="M346.9 555.3v-3.9M359.35 555.3v-2.1M371.81 555.3v-3.9M384.26 555.3v-2.1M396.72 555.3v-3.9M409.17 555.3v-2.1M421.63 555.3v-3.9M434.08 555.3v-2.1M446.54 555.3v-3.9M459 555.3v-2.1M471.45 555.3v-3.9M483.9 555.3v-2.1M496.36 555.3v-3.9M508.81 555.3v-2.1M521.27 555.3v-3.9M533.73 555.3v-2.1M546.18 555.3v-3.9M558.63 555.3v-2.1M571.09 555.3v-3.9M583.55 555.3v-2.1M596 555.3v-3.9M346.9 555.3h3.9M346.9 542.73h2.1M346.9 530.16h3.9M346.9 517.59h2.1M346.9 505.02h3.9M346.9 492.46h2.1M346.9 479.89h3.9M346.9 467.32h2.1M346.9 454.75h3.9M346.9 442.18h2.1M346.9 429.61h3.9M346.9 417.04h2.1M346.9 404.47h3.9M346.9 391.91h2.1M346.9 379.34h3.9M346.9 366.77h2.1M346.9 354.2h3.9" stroke="#000" stroke-width="1.3" fill="none"/>
<g font-family="'Liberation Serif', 'Noto Serif CJK SC', serif" font-weight="bold" stroke="#000" stroke-width="0.4" font-size="14.4" text-anchor="middle" fill="#000">
<text transform="translate(346.9 570.7) scale(0.89 1)">3</text>
<text transform="translate(371.81 570.7) scale(0.89 1)">4</text>
<text transform="translate(396.72 570.7) scale(0.89 1)">5</text>
<text transform="translate(421.63 570.7) scale(0.89 1)">6</text>
<text transform="translate(446.54 570.7) scale(0.89 1)">7</text>
<text transform="translate(471.45 570.7) scale(0.89 1)">8</text>
<text transform="translate(496.36 570.7) scale(0.89 1)">9</text>
<text transform="translate(521.27 570.7) scale(0.89 1)">10</text>
<text transform="translate(546.18 570.7) scale(0.89 1)">11</text>
<text transform="translate(571.09 570.7) scale(0.89 1)">12</text>
<text transform="translate(596 570.7) scale(0.89 1)">13</text>
</g>
<g font-family="'Liberation Serif', 'Noto Serif CJK SC', serif" font-weight="bold" stroke="#000" stroke-width="0.4" font-size="14.4" text-anchor="end" fill="#000">
<text transform="translate(342.1 560.3) scale(0.89 1)">-7</text>
<text transform="translate(342.1 535.16) scale(0.89 1)">-6</text>
<text transform="translate(342.1 510.02) scale(0.89 1)">-5</text>
<text transform="translate(342.1 484.89) scale(0.89 1)">-4</text>
<text transform="translate(342.1 459.75) scale(0.89 1)">-3</text>
<text transform="translate(342.1 434.61) scale(0.89 1)">-2</text>
<text transform="translate(342.1 409.47) scale(0.89 1)">-1</text>
<text transform="translate(342.1 384.34) scale(0.89 1)">0</text>
<text transform="translate(342.1 359.2) scale(0.89 1)">1</text>
</g>
<text font-family="'Liberation Serif', 'Noto Serif CJK SC', serif" font-weight="bold" stroke="#000" stroke-width="0.25" font-size="13.4" text-anchor="start" x="416.5" y="591.2">Temperature<tspan dx="-1.2">（</tspan>K）</text>
<text font-family="'Liberation Serif', 'Noto Serif CJK SC', serif" font-weight="bold" stroke="#000" stroke-width="0.25" font-size="13.4" text-anchor="start" transform="translate(327 512.6) rotate(-90)">moment<tspan dx="-1">（</tspan>10<tspan font-size="9.2" dy="-6">-5</tspan><tspan dy="6" dx="1.3"> emu</tspan><tspan dx="-1">）</tspan></text>
<text font-family="'Liberation Serif', 'Noto Serif CJK SC', serif" font-weight="bold" stroke="#000" stroke-width="0.25" font-size="13.4" x="357.3" y="367.5" xml:space="preserve"><tspan font-weight="normal">(</tspan><tspan dx="0.6">e</tspan><tspan font-weight="normal" dx="0.6">)</tspan></text>
<text font-family="'Liberation Serif', 'Noto Serif CJK SC', serif" font-weight="bold" stroke="#000" stroke-width="0.25" font-size="13.6" x="440.8" y="382.4" xml:space="preserve">Tc=9.2 K</text>
</svg>
</body></html>
